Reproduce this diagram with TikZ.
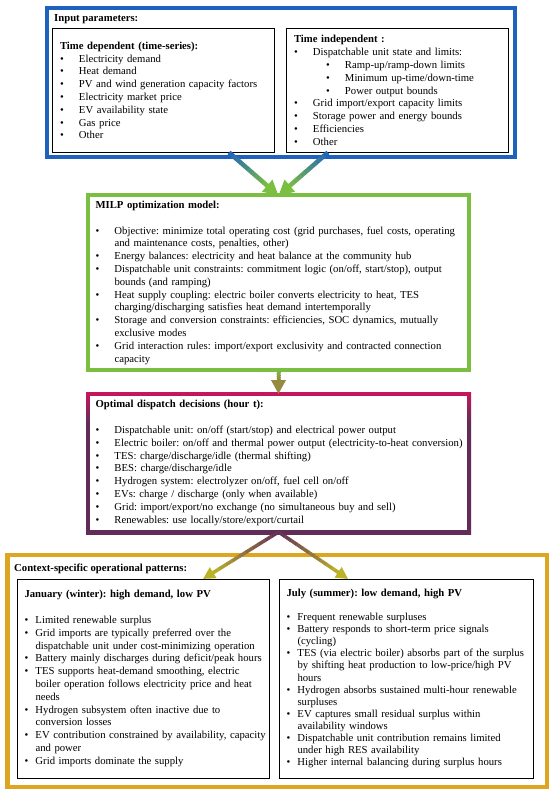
\documentclass[tikz,border=0pt]{standalone}
\usepackage{fontspec}
\setmainfont{Liberation Serif}
\usetikzlibrary{calc,arrows.meta}
\frenchspacing

\definecolor{inblue}{RGB}{31,98,190}
\definecolor{milpgreen}{RGB}{122,190,66}
\definecolor{dispred}{RGB}{200,22,92}
\definecolor{disppurple}{RGB}{98,44,88}
\definecolor{ctxorange}{RGB}{222,165,32}
\definecolor{headolive}{RGB}{150,138,62}
\definecolor{tipyellow}{RGB}{188,180,40}

\pgfdeclareverticalshading{dispframe}{100bp}{color(0bp)=(disppurple); color(25bp)=(disppurple); color(64bp)=(disppurple); color(75bp)=(dispred); color(100bp)=(dispred)}

\newcommand{\bitem}[2][19pt]{\mbox{\makebox[#1][l]{\textbullet}#2}}
\newcommand{\bcont}[2][19pt]{\mbox{\hspace*{#1}#2}}

\newcommand{\gradarrow}[6]{%
  \coordinate (hb) at ($(#2)!#6!(#1)$);
  \foreach \k in {0,...,9}{
    \pgfmathsetmacro\ta{\k/10}
    \pgfmathsetmacro\tb{(\k+1)/10+0.01}
    \pgfmathtruncatemacro\pct{95-10*\k}
    \draw[line width=#5, #3!\pct!#4] ($(#1)!\ta!(hb)$) -- ($(#1)!\tb!(hb)$);
  }
  \draw[line width=#5, #4, -{Triangle[length=#6, width=#6]}] ($(#2)!#6+1pt!(#1)$) -- (#2);
}

\tikzset{
  txt/.style={font=\fontsize{10.7}{12.8}\selectfont, align=left, inner ysep=0pt,
    inner xsep=7.5pt, outer sep=0pt, anchor=north west},
  heavybox/.style={draw, line width=4pt, outer sep=0pt, anchor=north west},
  thinbox/.style={txt, draw, line width=0.9pt},
  boxtitle/.style={font=\fontsize{10.7}{12.8}\selectfont\bfseries, anchor=west, inner sep=0pt}
}

\begin{document}
\begin{tikzpicture}[x=1pt,y=-1pt]
  \useasboundingbox (0,0) rectangle (550,794);

  \node[heavybox, draw=inblue, minimum width=468pt, minimum height=149.5pt] (input) at (47,8) {};
  \node[boxtitle] (inputtitle) at (54,19) {Input parameters:};
  \node[thinbox, text width=206.5pt, minimum height=124pt] (tdep) at (52.5,28.5)
    {\textbf{Time dependent (time-series):}\\
     \bitem{Electricity demand}\\
     \bitem{Heat demand}\\
     \bitem{PV and wind generation capacity factors}\\
     \bitem{Electricity market price}\\
     \bitem{EV availability state}\\
     \bitem{Gas price}\\
     \bitem{Other}};
  \node[thinbox, text width=206.5pt, minimum height=124pt] (tind) at (286.5,28.5)
    {\textbf{Time independent :}\\
     \bitem{Dispatchable unit state and limits:}\\
     \hspace*{32pt}\bitem{Ramp-up/ramp-down limits}\\
     \hspace*{32pt}\bitem{Minimum up-time/down-time}\\
     \hspace*{32pt}\bitem{Power output bounds}\\
     \bitem{Grid import/export capacity limits}\\
     \bitem{Storage power and energy bounds}\\
     \bitem{Efficiencies}\\
     \bitem{Other}};

  \node[heavybox, txt, draw=milpgreen, line width=4pt, text width=366pt, minimum height=174.5pt] (milp) at (88,195.5)
    {\textbf{MILP optimization model:}\\[12.8pt]
     \bitem{Objective: minimize total operating cost (grid purchases, fuel costs, operating}\\
     \bcont{and maintenance costs, penalties, other)}\\
     \bitem{Energy balances: electricity and heat balance at the community hub}\\
     \bitem{Dispatchable unit constraints: commitment logic (on/off, start/stop), output}\\
     \bcont{bounds (and ramping)}\\
     \bitem{Heat supply coupling: electric boiler converts electricity to heat, TES}\\
     \bcont{charging/discharging satisfies heat demand intertemporally}\\
     \bitem{Storage and conversion constraints: efficiencies, SOC dynamics, mutually}\\
     \bcont{exclusive modes}\\
     \bitem{Grid interaction rules: import/export exclusivity and contracted connection}\\
     \bcont{capacity}};

  \shade[shading=dispframe] (86,392) rectangle (471,534);
  \fill[white] (90,396) rectangle (467,530);
  \node[txt, text width=366pt, minimum height=138pt] (disp) at (88,394)
    {\textbf{Optimal dispatch decisions (hour t):}\\[12.8pt]
     \bitem{Dispatchable unit: on/off (start/stop) and electrical power output}\\
     \bitem{Electric boiler: on/off and thermal power output (electricity-to-heat conversion)}\\
     \bitem{TES: charge/discharge/idle (thermal shifting)}\\
     \bitem{BES: charge/discharge/idle}\\
     \bitem{Hydrogen system: electrolyzer on/off, fuel cell on/off}\\
     \bitem{EVs: charge / discharge (only when available)}\\
     \bitem{Grid: import/export/no exchange (no simultaneous buy and sell)}\\
     \bitem{Renewables: use locally/store/export/curtail}};

  \node[heavybox, draw=ctxorange, line width=4.5pt, minimum width=539.5pt, minimum height=232pt] (ctx) at (7.5,555) {};
  \node[boxtitle] (ctxtitle) at (14,569) {Context-specific operational patterns:};
  \node[thinbox, text width=237pt, minimum height=199pt] (jan) at (17,579)
    {\textbf{January (winter): high demand, low PV}\\[12.8pt]
     \bitem[11pt]{Limited renewable surplus}\\
     \bitem[11pt]{Grid imports are typically preferred over the}\\
     \bcont[11pt]{dispatchable unit under cost-minimizing operation}\\
     \bitem[11pt]{Battery mainly discharges during deficit/peak hours}\\
     \bitem[11pt]{TES supports heat-demand smoothing, electric}\\
     \bcont[11pt]{boiler operation follows electricity price and heat}\\
     \bcont[11pt]{needs}\\
     \bitem[11pt]{Hydrogen subsystem often inactive due to}\\
     \bcont[11pt]{conversion losses}\\
     \bitem[11pt]{EV contribution constrained by availability, capacity}\\
     \bcont[11pt]{and power}\\
     \bitem[11pt]{Grid imports dominate the supply}};
  \node[thinbox, font=\fontsize{10.7}{12.1}\selectfont, text width=239pt, minimum height=199pt] (jul) at (279,579)
    {\textbf{July (summer): low demand, high PV}\\[12.1pt]
     \bitem[11pt]{Frequent renewable surpluses}\\
     \bitem[11pt]{Battery responds to short-term price signals}\\
     \bcont[11pt]{(cycling)}\\
     \bitem[11pt]{TES (via electric boiler) absorbs part of the surplus}\\
     \bcont[11pt]{by shifting heat production to low-price/high PV}\\
     \bcont[11pt]{hours}\\
     \bitem[11pt]{Hydrogen absorbs sustained multi-hour renewable}\\
     \bcont[11pt]{surpluses}\\
     \bitem[11pt]{EV captures small residual surplus within}\\
     \bcont[11pt]{availability windows}\\
     \bitem[11pt]{Dispatchable unit contribution remains limited}\\
     \bcont[11pt]{under high RES availability}\\
     \bitem[11pt]{Higher internal balancing during surplus hours}};

  \coordinate (tdepout) at ($(tdep.south west)!0.797!(tdep.south east)$);
  \coordinate (tindout) at ($(tind.south west)!0.187!(tind.south east)$);
  \coordinate (janin) at ($(jan.north west)!0.738!(jan.north east)$);
  \coordinate (julin) at ($(jul.north west)!0.272!(jul.north east)$);

  \gradarrow{tdepout}{milp.north}{inblue}{milpgreen}{4.5pt}{15pt}
  \gradarrow{tindout}{milp.north}{inblue}{milpgreen}{4.5pt}{15pt}
  \gradarrow{milp.south}{disp.north}{milpgreen}{headolive}{4pt}{14pt}
  \gradarrow{disp.south}{janin}{disppurple}{tipyellow}{3.5pt}{12pt}
  \gradarrow{disp.south}{julin}{disppurple}{tipyellow}{3.5pt}{12pt}
\end{tikzpicture}
\end{document}
